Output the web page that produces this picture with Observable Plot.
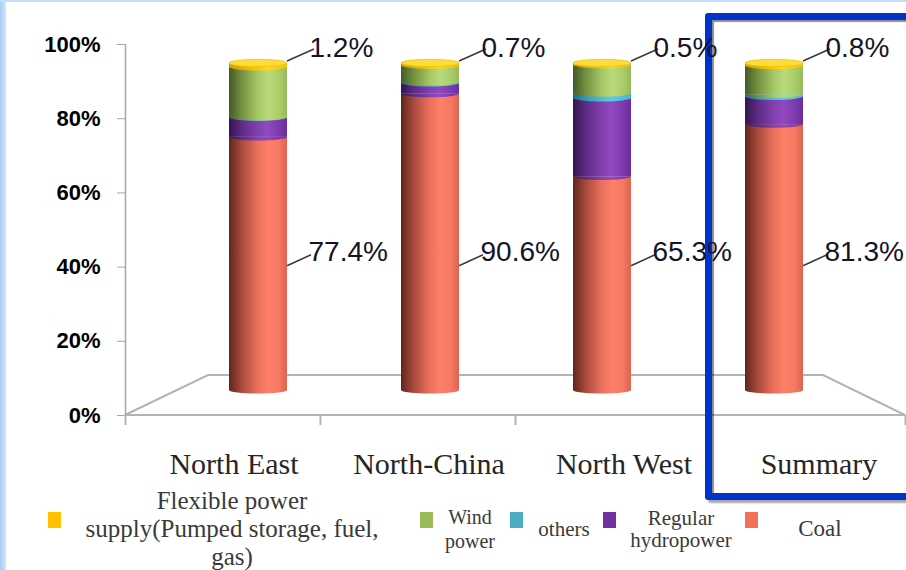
<!DOCTYPE html>
<html>
<head>
<meta charset="utf-8">
<script src="https://cdn.jsdelivr.net/npm/d3@7"></script>
<script src="https://cdn.jsdelivr.net/npm/@observablehq/plot@0.6"></script>
<style>
  html, body { margin: 0; padding: 0; background: #fff; }
  #chart { position: relative; width: 906px; height: 570px; overflow: hidden; background: #fff; }
  #chart .layer { position: absolute; left: 0; top: 0; }
  .edge-left { position: absolute; left: 0; top: 0; width: 6px; height: 570px; background: linear-gradient(to right, #a6cbf5, #d2e7fc); }
  .edge-top { position: absolute; left: 0; top: 0; width: 906px; height: 2px; background: #c4defb; }
  .highlight { position: absolute; left: 705px; top: 13px; width: 260px; height: 473px;
    border: 7px solid #0033cc; border-radius: 3px;
    box-shadow: 3px 3px 2px rgba(0,0,0,.35), inset 2px 2px 1px rgba(0,0,0,.45); }
  .swatch { position: absolute; width: 13px; height: 16px; }
  .legend-text { position: absolute; transform: translate(-50%, -50%); text-align: center; white-space: pre;
    font-family: "Liberation Serif", "Times New Roman", serif; color: #3a3a3a; }
</style>
</head>
<body>
<div id="chart">
  <div class="edge-left"></div>
  <div class="edge-top"></div>
</div>
<script>
// Generation mix by region (% of capacity), stacked bottom to top
const regions = ["North East", "North-China", "North West", "Summary"];
const sources = ["Coal", "Regular hydropower", "others", "Wind power", "Flexible power supply"];
const coal      = [77.4, 90.6, 65.3, 81.3];
const hydro     = [6.0, 3.3, 24.0, 8.5];
const others    = [0.1, 0.3, 1.5, 0.6];
const wind      = [15.3, 5.1, 8.7, 8.8];
const flexible  = [1.2, 0.7, 0.5, 0.8];
const yTicks = [0, 20, 40, 60, 80, 100];

// Legend entries, left to right
const legendNames = ["Flexible power\nsupply(Pumped storage, fuel,\ngas)", "Wind\npower", "others", "Regular\nhydropower", "Coal"];
const legendColors = ["#ffc000", "#9bbb59", "#4bacc6", "#7030a0", "#f0705a"];

const seriesValues = [coal, hydro, others, wind, flexible];
const rows = regions.flatMap((region, i) =>
  sources.map((source, k) => ({region, source, value: seriesValues[k][i]})));

// Cylinder shading: dark left edge, highlight right of centre
const shading = [
  [[0, "#5e261c"], [0.2, "#a4473a"], [0.5, "#ea725c"], [0.68, "#ff8068"], [0.86, "#f57862"], [1, "#dc6450"]],
  [[0, "#34134f"], [0.2, "#5a2a80"], [0.5, "#8240b0"], [0.66, "#8f4abf"], [0.86, "#7d3aad"], [1, "#6c2e99"]],
  [[0, "#1a6f88"], [0.3, "#3aa6c2"], [0.66, "#60cbe6"], [1, "#45b2cf"]],
  [[0, "#435a25"], [0.2, "#6f8c3f"], [0.5, "#a6c866"], [0.68, "#b9da7a"], [0.86, "#aacd6a"], [1, "#98b95b"]],
  [[0, "#c89a00"], [0.4, "#f2c200"], [0.66, "#ffd91a"], [1, "#f0c000"]]
];

const sans = "'Liberation Sans', Arial, sans-serif";
const serif = "'Liberation Serif', 'Times New Roman', serif";

// Floor of the 3D frame: front edge on the axis, back edge set back in depth
const depth = {left: 83, right: 82, rise: 40};
function floorMark(index, {x, y}) {
  const x0 = x(0), x1 = x(4), y0 = y(0);
  const pts = [[x0, y0], [x1, y0], [x1 - depth.right, y0 - depth.rise], [x0 + depth.left, y0 - depth.rise]];
  return d3.create("svg:path")
    .attr("d", "M" + pts.join("L") + "Z")
    .attr("fill", "none").attr("stroke", "#b4b4b4").attr("stroke-width", 2)
    .node();
}

const frame = Plot.plot({
  width: 906, height: 490,
  marginLeft: 125, marginRight: 1, marginTop: 44, marginBottom: 75,
  style: {background: "transparent"},
  x: {domain: [0, 4]},
  y: {domain: [0, 100]},
  marks: [
    floorMark,
    Plot.ruleX([0], {y1: 0, y2: 100, stroke: "#a6a6a6", strokeWidth: 1.5}),
    Plot.axisY(yTicks, {tickFormat: d => d + "%", tickSize: 8, tickPadding: 17, stroke: "#a6a6a6", fill: "#000",
      fontSize: 22, fontWeight: "bold", fontFamily: sans, label: null}),
    Plot.axisX([0, 1, 2, 3, 4], {tickSize: 10, tickFormat: () => "", stroke: "#b4b4b4", strokeWidth: 2, label: null}),
    Plot.text(regions, {x: (d, i) => i + 0.5, frameAnchor: "bottom", dy: 58, dx: 11, text: d => d,
      fontFamily: serif, fontSize: 30, fill: "#262626"})
  ]
});
frame.classList.add("layer");

function gradientDefs() {
  const defs = d3.create("svg:defs");
  shading.forEach((stops, k) => {
    const g = defs.append("linearGradient").attr("id", `cyl-${k}`)
      .attr("x1", 0).attr("x2", 1).attr("y1", 0).attr("y2", 0);
    stops.forEach(([o, c]) => g.append("stop").attr("offset", o).attr("stop-color", c));
  });
  return defs.node();
}

// Curved segment boundaries and the top face of each cylinder
const ry = 3.6;
function cylinderCaps(index, {x, y}) {
  const g = d3.create("svg:g");
  const rx = x.bandwidth() / 2;
  regions.forEach((region, i) => {
    const cx = x(region) + rx;
    let cum = 0;
    seriesValues.forEach((vals, k) => {
      const yb = y(cum);
      g.append("path")
        .attr("d", `M${cx - rx},${yb}A${rx},${ry} 0 0 0 ${cx + rx},${yb}Z`)
        .attr("fill", `url(#cyl-${k})`);
      cum += vals[i];
    });
    g.append("ellipse").attr("cx", cx).attr("cy", y(cum)).attr("rx", rx).attr("ry", ry)
      .attr("fill", "#ffdc3c").attr("stroke", "#f0c000").attr("stroke-width", 0.8);
  });
  return g.node();
}

// Leader lines from the bar edge to each data label
const coalLabelLevel = 38;
function leaders(index, {x, y}) {
  const g = d3.create("svg:g").attr("stroke", "#3a3a3a").attr("stroke-width", 1.4).attr("fill", "none");
  regions.forEach((region, i) => {
    const xr = x(region) + x.bandwidth();
    const yc = y(coalLabelLevel);
    g.append("line").attr("x1", xr).attr("y1", yc).attr("x2", xr + 24).attr("y2", yc - 11);
    const yt = y(100) - 2;
    g.append("line").attr("x1", xr).attr("y1", yt).attr("x2", xr + 27).attr("y2", yt - 12);
  });
  return g.node();
}

const bars = Plot.plot({
  width: 906, height: 490,
  style: {background: "transparent"},
  x: {domain: regions, range: [171, 861], paddingInner: 0.66, paddingOuter: 0.33, axis: null},
  y: {domain: [0, 100], range: [390, 63], axis: null},
  color: {domain: sources, range: sources.map((s, k) => `url(#cyl-${k})`)},
  marks: [
    gradientDefs,
    Plot.barY(rows, {x: "region", y: "value", fill: "source", order: sources}),
    cylinderCaps,
    leaders,
    Plot.text(regions, {x: d => d, y: () => coalLabelLevel, text: (d, i) => coal[i].toFixed(1) + "%",
      dx: 50, dy: -14, textAnchor: "start", fontFamily: sans, fontSize: 28, fill: "#141428"}),
    Plot.text(regions, {x: d => d, y: () => 100, text: (d, i) => flexible[i].toFixed(1) + "%",
      dx: 51, dy: -15, textAnchor: "start", fontFamily: sans, fontSize: 28, fill: "#141428"})
  ]
});
bars.classList.add("layer");

const chart = document.getElementById("chart");
chart.appendChild(frame);
const box = document.createElement("div");
box.className = "highlight";
chart.appendChild(box);
chart.appendChild(bars);

// Legend row under the plot
const legendLayout = [
  {sx: 48, tx: 232, size: 25, lh: 28},
  {sx: 420, tx: 470, size: 20, lh: 24},
  {sx: 510, tx: 564, size: 21, lh: 24},
  {sx: 603, tx: 681, size: 21, lh: 22},
  {sx: 745, tx: 820, size: 23, lh: 26}
];
legendNames.forEach((name, k) => {
  const {sx, tx, size, lh} = legendLayout[k];
  const sw = document.createElement("div");
  sw.className = "swatch";
  sw.style.left = sx + "px"; sw.style.top = "512px"; sw.style.background = legendColors[k];
  chart.appendChild(sw);
  const t = document.createElement("div");
  t.className = "legend-text";
  t.style.left = tx + "px"; t.style.top = "529px";
  t.style.fontSize = size + "px"; t.style.lineHeight = lh + "px";
  t.textContent = name;
  chart.appendChild(t);
});
</script>
</body>
</html>
